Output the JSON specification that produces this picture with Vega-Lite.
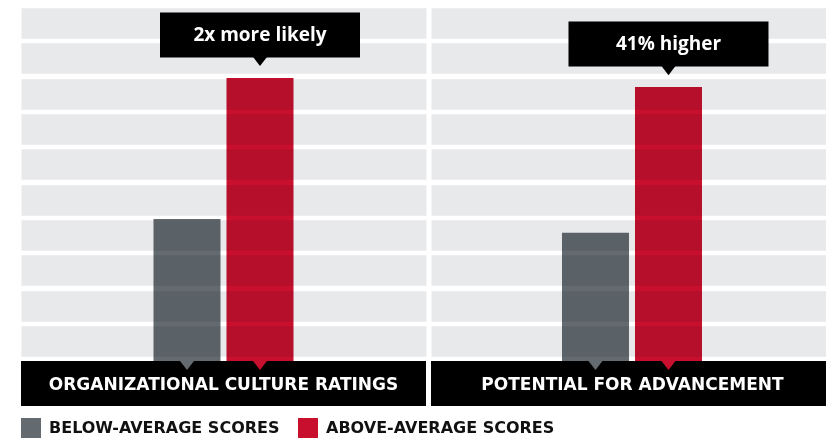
{
  "$schema": "https://vega.github.io/schema/vega-lite/v6.json",
  "padding": {"left": 21, "top": 8, "right": 0, "bottom": 0},
  "autosize": {"type": "pad"},
  "background": "white",
  "data": {
    "values": [
      {"category": "ORGANIZATIONAL CULTURE RATINGS", "series": "BELOW-AVERAGE SCORES", "value": 4.02},
      {"category": "ORGANIZATIONAL CULTURE RATINGS", "series": "ABOVE-AVERAGE SCORES", "value": 8.02, "note": "2x more likely"},
      {"category": "POTENTIAL FOR ADVANCEMENT", "series": "BELOW-AVERAGE SCORES", "value": 3.63},
      {"category": "POTENTIAL FOR ADVANCEMENT", "series": "ABOVE-AVERAGE SCORES", "value": 7.76, "note": "41% higher"}
    ]
  },
  "hconcat": [
    {
      "width": 405,
      "height": 398,
      "transform": [{"filter": {"field": "category", "equal": "ORGANIZATIONAL CULTURE RATINGS"}}],
      "layer": [
        {
          "mark": {"type": "bar", "blend": "multiply"},
          "encoding": {
            "x": {"field": "category", "type": "nominal", "scale": {"paddingInner": 0, "paddingOuter": 0.9464}, "axis": null},
            "xOffset": {"field": "series", "type": "nominal", "sort": ["BELOW-AVERAGE SCORES", "ABOVE-AVERAGE SCORES"], "scale": {"paddingInner": 0.0822, "paddingOuter": 0}},
            "y": {"field": "value", "type": "quantitative", "title": null, "scale": {"domain": [-1.2748, 10], "nice": false, "zero": false}, "axis": {"values": [0.571, 1.571, 2.571, 3.571, 4.571, 5.571, 6.571, 7.571, 8.571, 9.571]}},
            "y2": {"datum": 0},
            "color": {"field": "series", "type": "nominal", "sort": ["BELOW-AVERAGE SCORES", "ABOVE-AVERAGE SCORES"], "scale": {"domain": ["BELOW-AVERAGE SCORES", "ABOVE-AVERAGE SCORES"], "range": ["#636A70", "#C8102E"]}, "legend": {"title": null}}
          }
        },
        {
          "transform": [{"filter": {"field": "series", "equal": "BELOW-AVERAGE SCORES"}}],
          "mark": {"type": "rect", "color": "#000000"},
          "encoding": {
            "x": {"value": 0},
            "x2": {"value": "width"},
            "y": {"datum": 0, "title": null},
            "y2": {"datum": -1.2748}
          }
        },
        {
          "mark": {"type": "point", "shape": "M-1,0L1,0L0,1.3Z", "size": 196, "filled": true, "opacity": 1, "strokeWidth": 0},
          "encoding": {
            "x": {"field": "category", "type": "nominal", "axis": null},
            "xOffset": {"field": "series", "type": "nominal", "sort": ["BELOW-AVERAGE SCORES", "ABOVE-AVERAGE SCORES"]},
            "y": {"datum": 0, "title": null},
            "color": {"field": "series", "type": "nominal", "sort": ["BELOW-AVERAGE SCORES", "ABOVE-AVERAGE SCORES"], "legend": null}
          }
        },
        {
          "transform": [{"filter": {"field": "series", "equal": "BELOW-AVERAGE SCORES"}}],
          "mark": {"type": "text", "color": "#FFFFFF", "font": "DejaVu Sans", "fontSize": 17, "fontWeight": "bold", "baseline": "middle", "align": "center", "dy": 1},
          "encoding": {
            "x": {"field": "category", "type": "nominal", "axis": null},
            "y": {"datum": -0.64, "title": null},
            "text": {"field": "category"}
          }
        },
        {
          "transform": [{"filter": "isValid(datum.note)"}],
          "mark": {"type": "bar", "color": "#000000", "width": 200, "yOffset": -65.5, "y2Offset": -20.5},
          "encoding": {
            "x": {"field": "category", "type": "nominal", "axis": null},
            "xOffset": {"field": "series", "type": "nominal", "sort": ["BELOW-AVERAGE SCORES", "ABOVE-AVERAGE SCORES"]},
            "y": {"field": "value", "type": "quantitative", "title": null},
            "y2": {"field": "value"}
          }
        },
        {
          "transform": [{"filter": "isValid(datum.note)"}],
          "mark": {"type": "point", "shape": "M-1,0L1,0L0,1.3Z", "size": 196, "filled": true, "opacity": 1, "strokeWidth": 0, "color": "#000000", "yOffset": -21},
          "encoding": {
            "x": {"field": "category", "type": "nominal", "axis": null},
            "xOffset": {"field": "series", "type": "nominal", "sort": ["BELOW-AVERAGE SCORES", "ABOVE-AVERAGE SCORES"]},
            "y": {"field": "value", "type": "quantitative", "title": null}
          }
        },
        {
          "transform": [{"filter": "isValid(datum.note)"}],
          "mark": {"type": "text", "color": "#FFFFFF", "font": "Open Sans", "fontSize": 19, "fontWeight": "bold", "baseline": "middle", "align": "center", "yOffset": -43},
          "encoding": {
            "x": {"field": "category", "type": "nominal", "axis": null},
            "xOffset": {"field": "series", "type": "nominal", "sort": ["BELOW-AVERAGE SCORES", "ABOVE-AVERAGE SCORES"]},
            "y": {"field": "value", "type": "quantitative", "title": null},
            "text": {"field": "note"}
          }
        }
      ]
    },
    {
      "width": 395,
      "height": 398,
      "transform": [{"filter": {"field": "category", "equal": "POTENTIAL FOR ADVANCEMENT"}}],
      "layer": [
        {
          "mark": {"type": "bar", "blend": "multiply"},
          "encoding": {
            "x": {"field": "category", "type": "nominal", "scale": {"paddingInner": 0, "paddingOuter": 0.9007, "align": 0.5157}, "axis": null},
            "xOffset": {"field": "series", "type": "nominal", "sort": ["BELOW-AVERAGE SCORES", "ABOVE-AVERAGE SCORES"], "scale": {"paddingInner": 0.0946, "paddingOuter": 0}},
            "y": {"field": "value", "type": "quantitative", "title": null, "scale": {"domain": [-1.2748, 10], "nice": false, "zero": false}, "axis": {"values": [0.571, 1.571, 2.571, 3.571, 4.571, 5.571, 6.571, 7.571, 8.571, 9.571]}},
            "y2": {"datum": 0},
            "color": {"field": "series", "type": "nominal", "sort": ["BELOW-AVERAGE SCORES", "ABOVE-AVERAGE SCORES"], "legend": {"title": null}}
          }
        },
        {
          "transform": [{"filter": {"field": "series", "equal": "BELOW-AVERAGE SCORES"}}],
          "mark": {"type": "rect", "color": "#000000"},
          "encoding": {
            "x": {"value": 0},
            "x2": {"value": "width"},
            "y": {"datum": 0, "title": null},
            "y2": {"datum": -1.2748}
          }
        },
        {
          "mark": {"type": "point", "shape": "M-1,0L1,0L0,1.3Z", "size": 196, "filled": true, "opacity": 1, "strokeWidth": 0},
          "encoding": {
            "x": {"field": "category", "type": "nominal", "axis": null},
            "xOffset": {"field": "series", "type": "nominal", "sort": ["BELOW-AVERAGE SCORES", "ABOVE-AVERAGE SCORES"]},
            "y": {"datum": 0, "title": null},
            "color": {"field": "series", "type": "nominal", "sort": ["BELOW-AVERAGE SCORES", "ABOVE-AVERAGE SCORES"], "legend": null}
          }
        },
        {
          "transform": [{"filter": {"field": "series", "equal": "BELOW-AVERAGE SCORES"}}],
          "mark": {"type": "text", "color": "#FFFFFF", "font": "DejaVu Sans", "fontSize": 17, "fontWeight": "bold", "baseline": "middle", "align": "center", "dy": 1},
          "encoding": {
            "x": {"field": "category", "type": "nominal", "axis": null},
            "y": {"datum": -0.64, "title": null},
            "text": {"field": "category"}
          }
        },
        {
          "transform": [{"filter": "isValid(datum.note)"}],
          "mark": {"type": "bar", "color": "#000000", "width": 200, "yOffset": -65.5, "y2Offset": -20.5},
          "encoding": {
            "x": {"field": "category", "type": "nominal", "axis": null},
            "xOffset": {"field": "series", "type": "nominal", "sort": ["BELOW-AVERAGE SCORES", "ABOVE-AVERAGE SCORES"]},
            "y": {"field": "value", "type": "quantitative", "title": null},
            "y2": {"field": "value"}
          }
        },
        {
          "transform": [{"filter": "isValid(datum.note)"}],
          "mark": {"type": "point", "shape": "M-1,0L1,0L0,1.3Z", "size": 196, "filled": true, "opacity": 1, "strokeWidth": 0, "color": "#000000", "yOffset": -21},
          "encoding": {
            "x": {"field": "category", "type": "nominal", "axis": null},
            "xOffset": {"field": "series", "type": "nominal", "sort": ["BELOW-AVERAGE SCORES", "ABOVE-AVERAGE SCORES"]},
            "y": {"field": "value", "type": "quantitative", "title": null}
          }
        },
        {
          "transform": [{"filter": "isValid(datum.note)"}],
          "mark": {"type": "text", "color": "#FFFFFF", "font": "Open Sans", "fontSize": 19, "fontWeight": "bold", "baseline": "middle", "align": "center", "yOffset": -43},
          "encoding": {
            "x": {"field": "category", "type": "nominal", "axis": null},
            "xOffset": {"field": "series", "type": "nominal", "sort": ["BELOW-AVERAGE SCORES", "ABOVE-AVERAGE SCORES"]},
            "y": {"field": "value", "type": "quantitative", "title": null},
            "text": {"field": "note"}
          }
        }
      ]
    }
  ],
  "spacing": 5,
  "config": {
    "font": "DejaVu Sans",
    "view": {"stroke": null},
    "axis": {"domain": false, "ticks": false, "labels": false, "grid": true, "gridColor": "#E8E9EB", "gridWidth": 30.3, "gridOpacity": 1, "minExtent": 0, "maxExtent": 0},
    "legend": {
      "orient": "bottom",
      "direction": "horizontal",
      "offset": 12,
      "padding": 0,
      "symbolType": "square",
      "symbolSize": 400,
      "symbolStrokeWidth": 0,
      "symbolOpacity": 1,
      "labelFont": "DejaVu Sans",
      "labelFontSize": 16,
      "labelFontWeight": "bold",
      "labelColor": "#111111",
      "labelOffset": 8,
      "labelLimit": 400,
      "columnPadding": 18
    }
  }
}
